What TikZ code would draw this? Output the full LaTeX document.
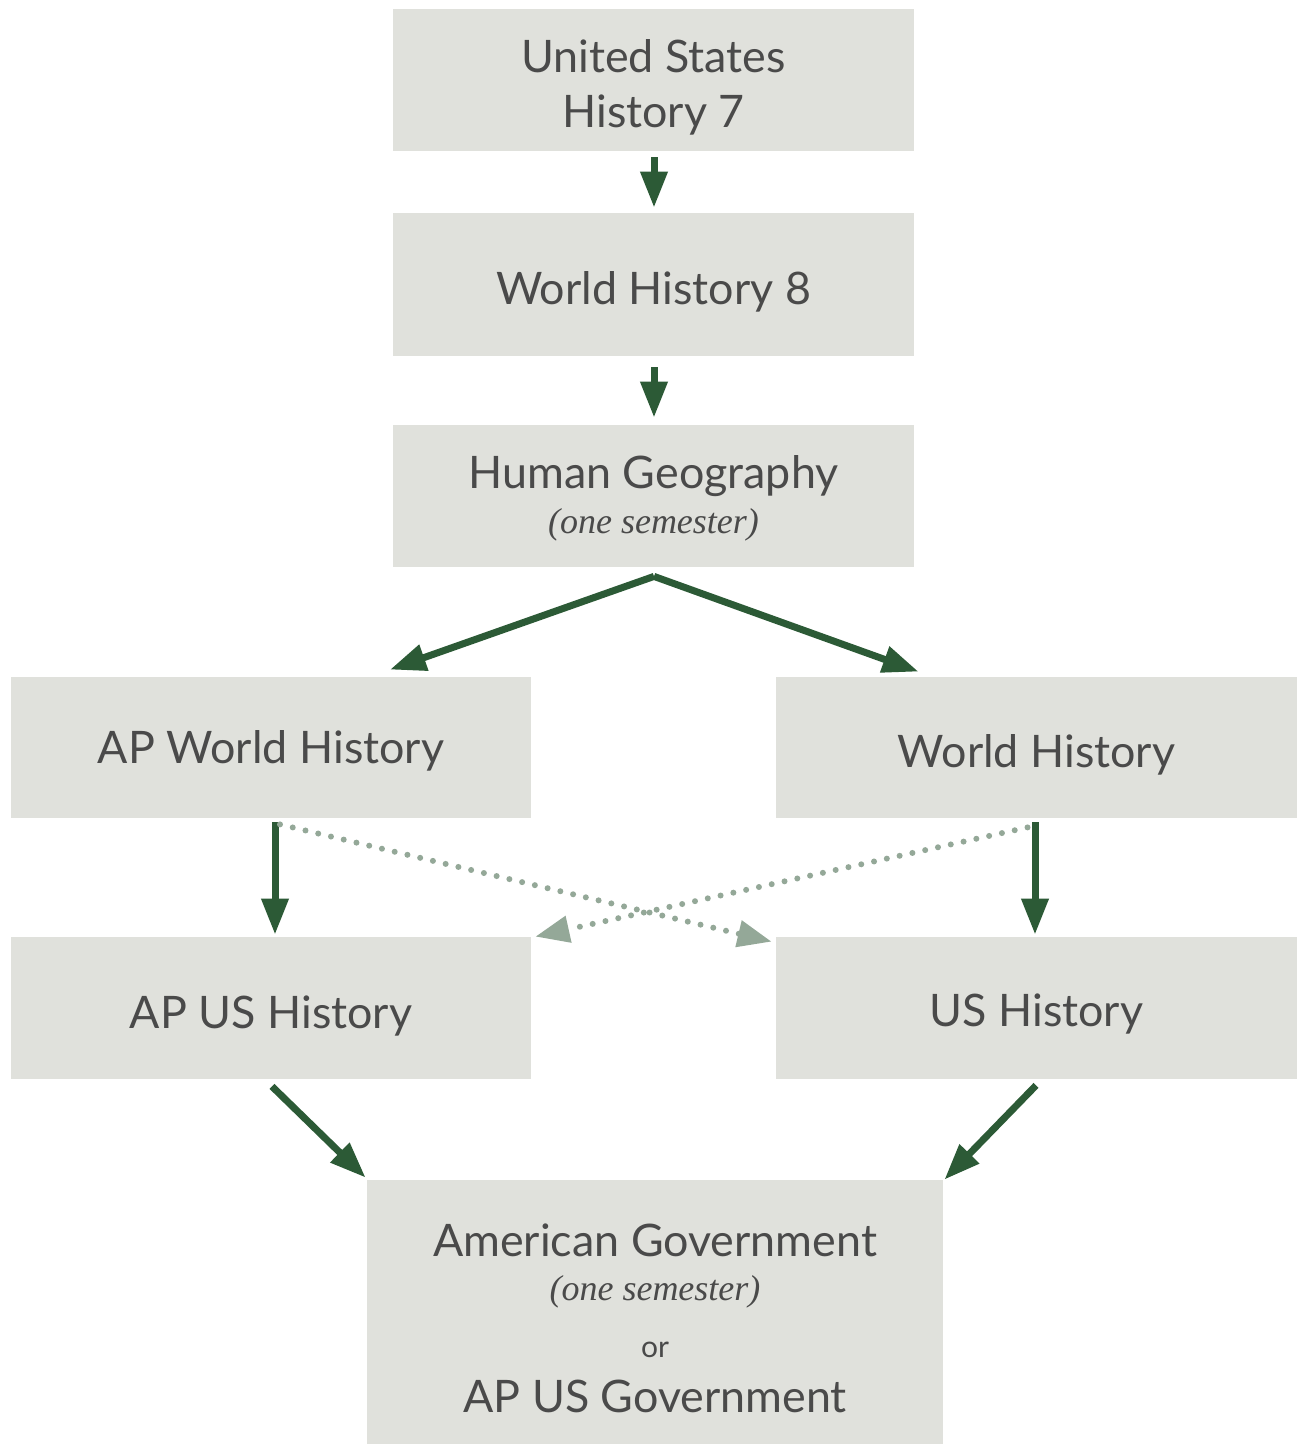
\documentclass[tikz,border=0pt]{standalone}
\usepackage{fontspec}
\setmainfont{Lato}
\newfontfamily\semfont{Liberation Serif}
\usetikzlibrary{arrows.meta,calc}
\definecolor{boxfill}{HTML}{E0E1DC}
\definecolor{txt}{HTML}{4A4A4A}
\definecolor{arr}{HTML}{2C5A36}
\definecolor{dotc}{HTML}{94A898}
\begin{document}
\begin{tikzpicture}[x=0.5pt,y=-0.5pt,
  box/.style={fill=boxfill,draw=none,inner sep=0pt,minimum width=#1},
  lbl/.style={text=txt,anchor=base,inner sep=0pt,font=\fontsize{22.4}{26}\selectfont},
  sem/.style={text=txt,anchor=base,inner sep=0pt,font=\semfont\itshape\fontsize{18}{21}\selectfont},
  orl/.style={text=txt,anchor=base,inner sep=0pt,font=\fontsize{15}{18}\selectfont},
  flow/.style={draw=arr,line width=3.5pt,-{Triangle[length=18pt,width=13pt]}},
  alt/.style={draw=dotc,line width=3pt,line cap=round,dash pattern=on 0pt off 6.55pt,
     -{Triangle[length=17pt,width=13pt,line cap=butt]}}
]
\useasboundingbox (0,0) rectangle (1299,1446);
\fill[white] (0,0) rectangle (1299,1446);
% boxes
\node[box=260.5pt,minimum height=71pt] (b1) at (653.5,80) {};
\node[box=260.5pt,minimum height=71.5pt] (b2) at (653.5,284.5) {};
\node[box=260.5pt,minimum height=71pt] (b3) at (653.5,496) {};
\node[box=260pt,minimum height=70.5pt] (b4) at (271,747.5) {};
\node[box=260.5pt,minimum height=70.5pt] (b5) at (1036.5,747.5) {};
\node[box=260pt,minimum height=71pt] (b6) at (271,1008) {};
\node[box=260.5pt,minimum height=71pt] (b7) at (1036.5,1008) {};
\node[box=288pt,minimum height=132pt] (b8) at (655,1312) {};
% texts
\node[lbl] (t1a) at (653.5,72) {United States};
\node[lbl] (t1b) at (653.5,127) {History 7};
\node[lbl] (t2) at (653.5,304) {World History 8};
\node[lbl] (t3) at (653.5,488) {Human Geography};
\node[sem] (t3s) at (653.5,533) {(one semester)};
\node[lbl] (t4) at (271,763) {AP World History};
\node[lbl] (t5) at (1036.5,767) {World History};
\node[lbl] (t6) at (271,1028) {AP US History};
\node[lbl] (t7) at (1036.5,1026) {US History};
\node[lbl] (t8a) at (655,1256) {American Government};
\node[sem] (t8s) at (655,1300) {(one semester)};
\node[orl] (t8o) at (655,1357) {or};
\node[lbl] (t8b) at (655,1412) {AP US Government};
% connectors
\draw[flow] ($(b1.south)+(0.5,6)$) -- ($(b2.north)+(0.5,-5)$);
\draw[flow] ($(b2.south)+(0.5,11)$) -- ($(b3.north)+(0.5,-7)$);
\draw[flow] ($(b3.south)+(0.5,9)$) -- ($(b4.north)+(119,-7)$);
\draw[flow] ($(b3.south)+(0.5,9)$) -- ($(b5.north)+(-118,-5)$);
\draw[flow] ($(b4.south)+(4,4)$) -- ($(b6.north)+(4,-2)$);
\draw[flow] ($(b5.south)+(-1.5,4)$) -- ($(b7.north)+(-1.5,-2)$);
\draw[alt] ($(b4.south)+(9,6)$) -- ($(b7.north west)+(-4,5)$);
\draw[alt] ($(b5.south)+(-9,9)$) -- ($(b6.north east)+(4,0)$);
\draw[flow] ($(b6.south)+(1,7)$) -- ($(b8.north west)+(-1,-2)$);
\draw[flow] ($(b7.south)+(-0.5,6)$) -- ($(b8.north east)+(1,0)$);
\end{tikzpicture}
\end{document}
